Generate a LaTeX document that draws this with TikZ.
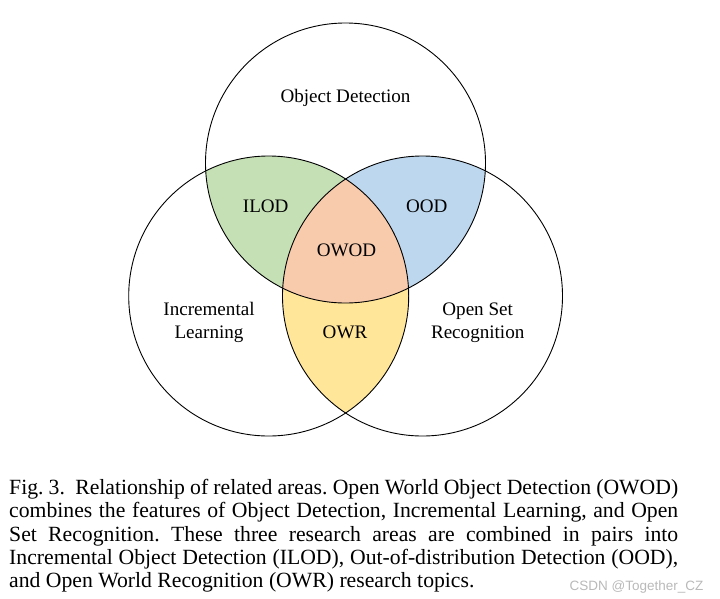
\documentclass[tikz,border=0pt]{standalone}
\usepackage{fontspec}
\setmainfont{Liberation Serif}
\newfontfamily\markfont{Liberation Sans}
\usepackage{tikz}
\usetikzlibrary{positioning}
\definecolor{ilodgreen}{HTML}{C5E0B4}
\definecolor{oodblue}{HTML}{BDD7EE}
\definecolor{owodorange}{HTML}{F8CBAD}
\definecolor{owryellow}{HTML}{FFE699}
\frenchspacing

\begin{document}
\begin{tikzpicture}[
  x=1pt, y=-1pt,
  ring/.style={draw=black, line width=0.9pt},
  lbl/.style={font=\fontsize{19.1}{22.7}\selectfont, align=center},
  captxt/.style={font=\fontsize{21.7}{23.35}\selectfont, align=justify,
              text width=669pt, inner sep=0pt, anchor=north west},
  wmark/.style={font=\markfont\fontsize{13.5}{15}\selectfont, text=gray!55}
]
\useasboundingbox (0,0) rectangle (720,598);

\coordinate (od)  at (345.5,163);
\coordinate (il)  at (268.7,296);
\coordinate (osr) at (422.5,296);

% pairwise overlaps
\begin{scope}
  \clip (od) circle[radius=140pt];
  \fill[ilodgreen] (il) circle[radius=140pt];
  \fill[oodblue] (osr) circle[radius=140pt];
\end{scope}
\begin{scope}
  \clip (il) circle[radius=140pt];
  \fill[owryellow] (osr) circle[radius=140pt];
\end{scope}
% centre
\begin{scope}
  \clip (od) circle[radius=140pt];
  \clip (il) circle[radius=140pt];
  \fill[owodorange] (osr) circle[radius=140pt];
\end{scope}

\draw[ring] (od)  circle[radius=140pt];
\draw[ring] (il)  circle[radius=140pt];
\draw[ring] (osr) circle[radius=140pt];

\node[lbl] (odl)   at (345.5,98)  {Object Detection};
\node[lbl] (ilod)  at (265.7,206) {ILOD};
\node[lbl] (ood)   at (426.7,206) {OOD};
\node[lbl] (owod)  at (346.5,250) {OWOD};
\node[lbl] (owr)   at (345,332)   {OWR};
\node[lbl] (incl)  at (209,322.5) {Incremental\\Learning};
\node[lbl] (osrl)  at (477.7,322.5) {Open Set\\Recognition};

\node[captxt] (caption) at (9,478) {\strut Fig.~3.\ \ Relationship of related areas. Open World Object Detection (OWOD)\linebreak
combines the features of Object Detection, Incremental Learning, and Open\linebreak
Set Recognition. These three research areas are combined in pairs into\linebreak
Incremental Object Detection (ILOD), Out-of-distribution Detection (OOD),\linebreak
and Open World Recognition (OWR) research topics.};

\node[wmark, anchor=east] (wm) at (707,586.5) {CSDN @Together\_CZ};
\end{tikzpicture}
\end{document}
